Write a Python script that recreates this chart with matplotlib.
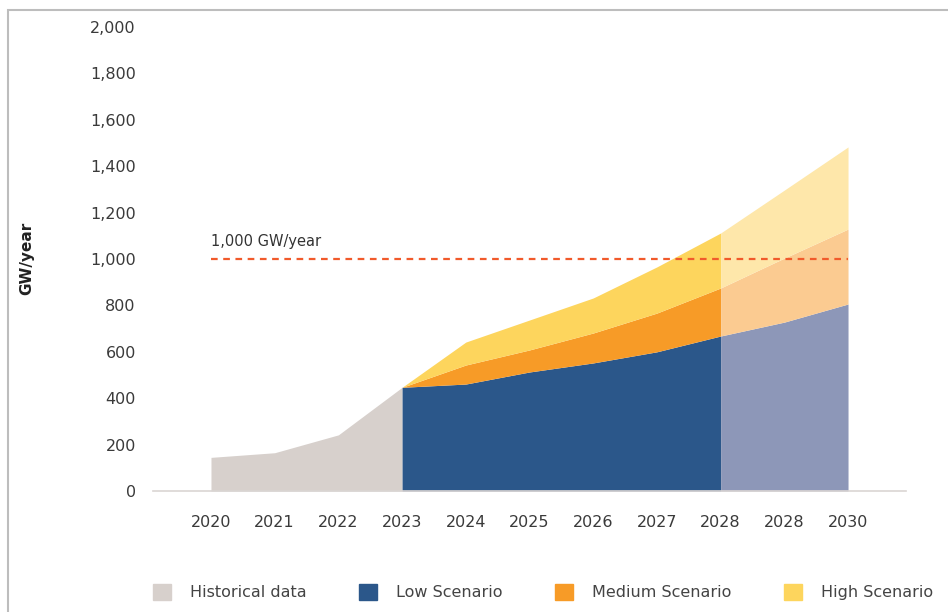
import matplotlib.pyplot as plt
from matplotlib.patches import Patch, Rectangle
from matplotlib.ticker import FuncFormatter

year_labels = ["2020", "2021", "2022", "2023", "2024", "2025", "2026", "2027", "2028", "2028", "2030"]
historical = [145, 165, 242, 447]
low = [447, 461, 513, 552, 600, 668, 728, 806]
medium = [447, 543, 608, 681, 767, 875, 1004, 1129]
high = [447, 642, 737, 832, 966, 1112, 1297, 1483]
target = 1000
legend_names = ["Historical data", "Low Scenario", "Medium Scenario", "High Scenario"]

c_hist = "#d7d0cc"
c_low, c_low_l = "#2b578a", "#8d97b8"
c_med, c_med_l = "#f79b27", "#fbcb91"
c_high, c_high_l = "#fdd55d", "#fee7aa"

fig = plt.figure(figsize=(9.48, 6.12), dpi=100)
ax = fig.add_axes([0.1614, 0.1977, 0.7943, 0.7582])

x_all = list(range(len(year_labels)))
x_hist = x_all[:4]
x_scen = x_all[3:]
split = 5  # 2028 index inside scenario arrays

ax.fill_between(x_hist, 0, historical, color=c_hist, lw=0)

xs_dark, xs_light = x_scen[:split + 1], x_scen[split:]
ax.fill_between(xs_dark, 0, low[:split + 1], color=c_low, lw=0)
ax.fill_between(xs_dark, low[:split + 1], medium[:split + 1], color=c_med, lw=0)
ax.fill_between(xs_dark, medium[:split + 1], high[:split + 1], color=c_high, lw=0)
ax.fill_between(xs_light, 0, low[split:], color=c_low_l, lw=0)
ax.fill_between(xs_light, low[split:], medium[split:], color=c_med_l, lw=0)
ax.fill_between(xs_light, medium[split:], high[split:], color=c_high_l, lw=0)

ax.plot([x_all[0], x_all[-1]], [target, target], color="#f15a2b", lw=1.6, ls=(0, (3, 2.5)))
ax.text(x_all[0], target + 45, "1,000 GW/year", fontsize=10.5, color="#333333", va="bottom", ha="left")

ax.set_xlim(-0.91, len(year_labels) - 1 + 0.91)
ax.set_ylim(0, 2000)
ax.set_yticks(range(0, 2001, 200))
ax.yaxis.set_major_formatter(FuncFormatter(lambda v, p: f"{int(v):,}"))
ax.set_xticks(x_all)
ax.set_xticklabels(year_labels)
ax.tick_params(axis="both", length=0, labelsize=11.5, labelcolor="#3a3a3a")
ax.tick_params(axis="y", pad=12.4)
ax.tick_params(axis="x", pad=17)

for s in ["top", "right", "left"]:
    ax.spines[s].set_visible(False)
ax.spines["bottom"].set_color("#dad5d3")
ax.spines["bottom"].set_linewidth(1.2)

fig.text(0.0285, 0.578, "GW/year", rotation=90, fontsize=11, fontweight="bold",
         color="#222222", ha="center", va="center")

handles = [Patch(color=c) for c in (c_hist, c_low, c_med, c_high)]
fig.legend(handles, legend_names, loc="center left", bbox_to_anchor=(153 / 948, 0.0327), ncol=4,
           frameon=False, fontsize=11.5, handlelength=1.15, handleheight=1.15, columnspacing=3.3,
           handletextpad=1.15, borderpad=0, borderaxespad=0, labelcolor="#444444")

fig.add_artist(Rectangle((0.0085, -0.1), 1.1, 1.0837, transform=fig.transFigure, fill=False,
                         edgecolor="#bdbdbd", lw=1.5))

fig.savefig("out.png", dpi=100)
